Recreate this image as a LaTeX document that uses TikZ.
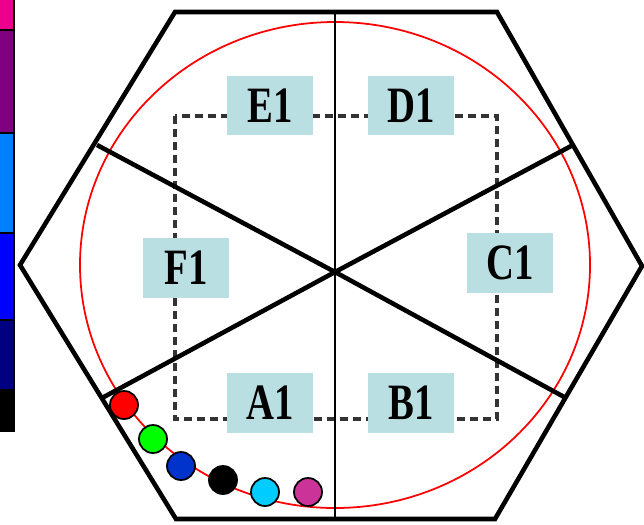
\documentclass[tikz,border=0pt]{standalone}
\usepackage{fontspec}
\setmainfont{Liberation Serif}
\newfontfamily\sectorfont{Liberation Serif}[FakeStretch=0.76]
\usepackage{tikz}
\usetikzlibrary{positioning,calc}
\definecolor{boxBlue}{RGB}{186,223,227}
\definecolor{barViolet}{RGB}{128,0,128}
\definecolor{barSky}{RGB}{0,128,255}
\definecolor{barNavy}{RGB}{0,0,128}
\definecolor{dotBlue}{RGB}{0,51,204}
\definecolor{dotCyan}{RGB}{0,204,255}
\definecolor{dotPink}{RGB}{204,51,153}
\tikzset{
  sector/.style={fill=boxBlue, minimum width=1.72cm, minimum height=1.2cm, inner sep=0pt,
    font=\sectorfont\fontsize{29}{29}\selectfont\bfseries},
  ring/.style={line width=2.6pt, line join=miter},
  probe/.style={draw=black, line width=1pt}
}

\begin{document}
\begin{tikzpicture}[x=0.02cm, y=-0.02cm]
        \useasboundingbox (0,0) rectangle (644,524);
        % colour bar
        \fill[magenta] (0,0) rectangle (13,30);
        \fill[barViolet] (0,30) rectangle (13,133);
        \fill[barSky] (0,133) rectangle (13,233);
        \fill[blue] (0,233) rectangle (13,320);
        \fill[barNavy] (0,320) rectangle (13,390);
        \fill[black] (0,390) rectangle (13,432);
        \foreach \yy in {30,133,233,320,390} \draw[line width=0.6pt] (0,\yy) -- (13,\yy);
        \draw[line width=0.8pt] (14,0) -- (14,432);
        % hexagon
        \coordinate (hl) at (20,265);
        \coordinate (htl) at (175,12);
        \coordinate (htr) at (497,12);
        \coordinate (hr) at (642,266);
        \coordinate (hbr) at (495,519);
        \coordinate (hbl) at (176,519);
        \draw[ring] (hl) -- (htl) -- (htr) -- (hr) -- (hbr) -- (hbl) -- cycle;
        % red circle
        \draw[red, line width=1pt] (335,265) ellipse [x radius=255, y radius=243];
        % dashed square
        \draw[dashed, dash pattern=on 0.16cm off 0.1cm, line width=1.9pt, black!80]
          (175,116) rectangle (497,419);
        % cuts
        \coordinate (mid) at (335,272);
        \coordinate (ulc) at (97,145);
        \coordinate (urc) at (573,145);
        \coordinate (llc) at (102,398);
        \coordinate (lrc) at (566,398);
        \draw[line width=1.5pt] (335,12) -- (335,519);
        \draw[ring] (ulc) -- (mid) -- (lrc);
        \draw[ring] (urc) -- (mid) -- (llc);
        % sector labels
        \node[sector] (e1) at (270,105.5) {E1};
        \node[sector] (d1) at (411,105.5) {D1};
        \node[sector] (c1) at (510,262.5) {C1};
        \node[sector] (f1) at (186,268) {F1};
        \node[sector] (a1) at (270,403) {A1};
        \node[sector] (b1) at (411,403) {B1};
        % probes along the rim
        \filldraw[probe, fill=red] (124,405) circle (14);
        \filldraw[probe, fill=green] (153,439) circle (14);
        \filldraw[probe, fill=dotBlue] (181,466) circle (14);
        \filldraw[probe, fill=black] (223,480) circle (14);
        \filldraw[probe, fill=dotCyan] (265,492) circle (14);
        \filldraw[probe, fill=dotPink] (308,492) circle (14);
      \end{tikzpicture}
\end{document}
